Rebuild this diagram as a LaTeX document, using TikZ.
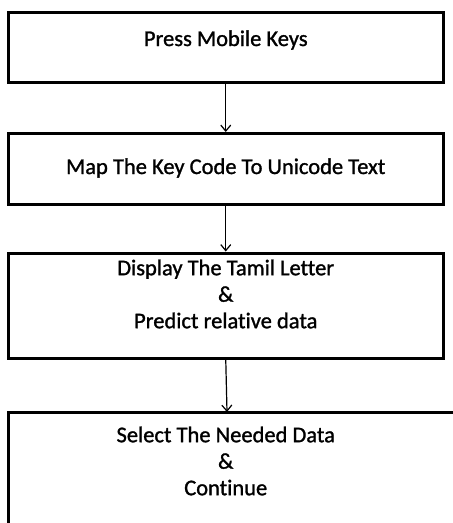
\documentclass[tikz,border=0pt]{standalone}
\usepackage{fontspec}
\setmainfont{Carlito}[Ligatures={NoCommon,NoRare,NoContextual},FakeBold=1.2,BoldFont=Carlito]
\usetikzlibrary{arrows.meta}
\begin{document}
\begin{tikzpicture}[x=1pt,y=-1pt,
  box/.style={draw, line width=3pt, minimum width=434.5pt, inner sep=0pt},
  lbl/.style={font=\fontsize{22.5}{26.5}\selectfont\bfseries, align=center, inner sep=0pt},
  conn/.style={line width=1.2pt, -{Straight Barb[length=6pt,width=10pt]}}]
\useasboundingbox (0,0) rectangle (453,523);
\node[box, minimum height=70.5pt] (b1) at (225.75,47.25) {};
\node[box, minimum height=70.5pt] (b2) at (225.75,168.75) {};
\node[box, minimum height=105pt] (b3) at (225.75,305.5) {};
\draw[line width=3pt] (8.5,540) |- (470,412);
\coordinate (b4top) at (227,412);
\node[lbl] (t1) at (225.75,40) {Press Mobile Keys};
\node[lbl] (t2) at (225.75,168) {Map The Key Code To Unicode Text};
\node[lbl] (t3) at (225.75,294) {Display The Tamil Letter\\\&\\Predict relative data};
\node[lbl] (t4) at (225.75,461) {Select The Needed Data\\\&\\Continue};
\draw[conn] (b1.south) -- (b2.north);
\draw[conn] (b2.south) -- (b3.north);
\draw[conn] (b3.south) -- (b4top);
\end{tikzpicture}
\end{document}
